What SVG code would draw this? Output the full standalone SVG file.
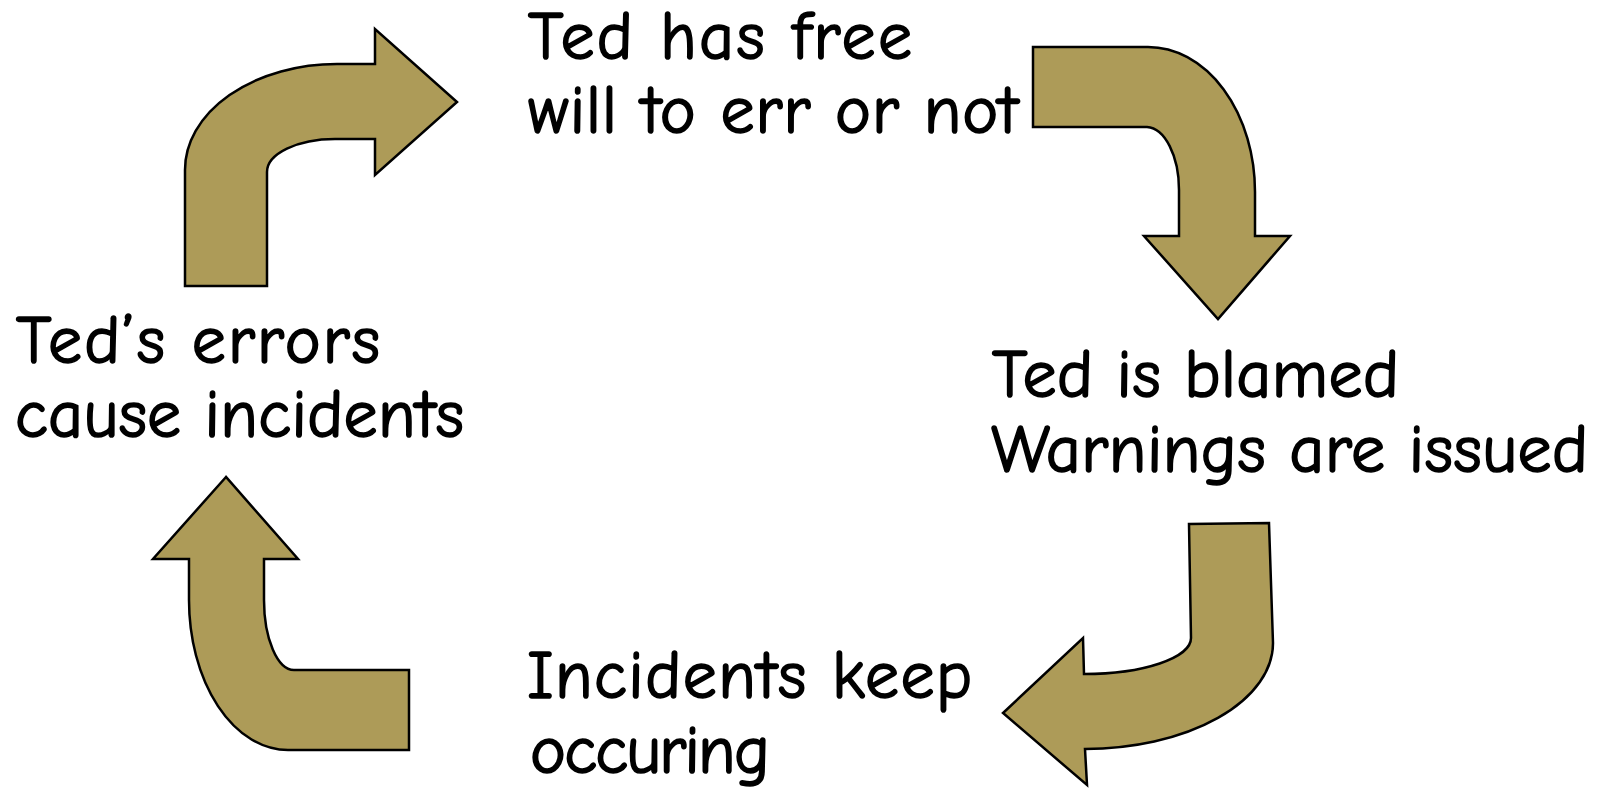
<svg xmlns="http://www.w3.org/2000/svg" width="1609" height="791" viewBox="0 0 1609 791">
<style>
.arrow{fill:#ad9b58;stroke:#000;stroke-width:2.5;stroke-linejoin:miter}
.t{font-family:"Comic Sans MS","Comic Neue","Liberation Sans",sans-serif;font-size:68px;fill:#000;stroke:#000;stroke-width:1.6;stroke-linejoin:round}
</style>
<rect width="1609" height="791" fill="#fff"/>
<g id="connectors">
<path id="arrow-top" class="arrow" d="M185,286 L185,170 A152,106 0 0 1 337,64 L375,64 L375,29 L457,102 L375,175 L375,139 L335,139 A68,33 0 0 0 267,172 L267,286 Z"/>
<path id="arrow-right" class="arrow" d="M1033,47 L1148,47 A107,145 0 0 1 1255,192 L1255,236 L1290,236 L1218,319 L1144,236 L1179,236 L1179,190 A33,63 0 0 0 1147,127 L1033,127 Z"/>
<path id="arrow-bottom" class="arrow" d="M1189,524 L1269,523 L1273,643 A188,106 0 0 1 1085,749 L1087,785 L1003,713 L1083,638 L1084,674 A107,36 0 0 0 1191,638 Z"/>
<path id="arrow-left" class="arrow" d="M226,477 L153,559 L189,559 L189,600 A99,150 0 0 0 288,750 L409,750 L409,670 L294,670 A30,70 0 0 1 264,600 L264,559 L298,559 Z"/>
</g>
<g id="node-free-will">
<text class="t" x="528" y="59" textLength="384">Ted has free</text>
<text class="t" x="528" y="133" textLength="490">will to err or not</text>
</g>
<g id="node-blamed">
<text class="t" x="992" y="397" textLength="407">Ted is blamed</text>
<text class="t" x="991" y="472" textLength="597">Warnings are issued</text>
</g>
<g id="node-incidents">
<text class="t" x="527" y="698" textLength="445">Incidents keep</text>
<text class="t" x="530" y="773" textLength="240">occuring</text>
</g>
<g id="node-errors">
<text class="t" x="16" y="363" textLength="364">Ted’s errors</text>
<text class="t" x="15" y="437" textLength="449">cause incidents</text>
</g>
</svg>
